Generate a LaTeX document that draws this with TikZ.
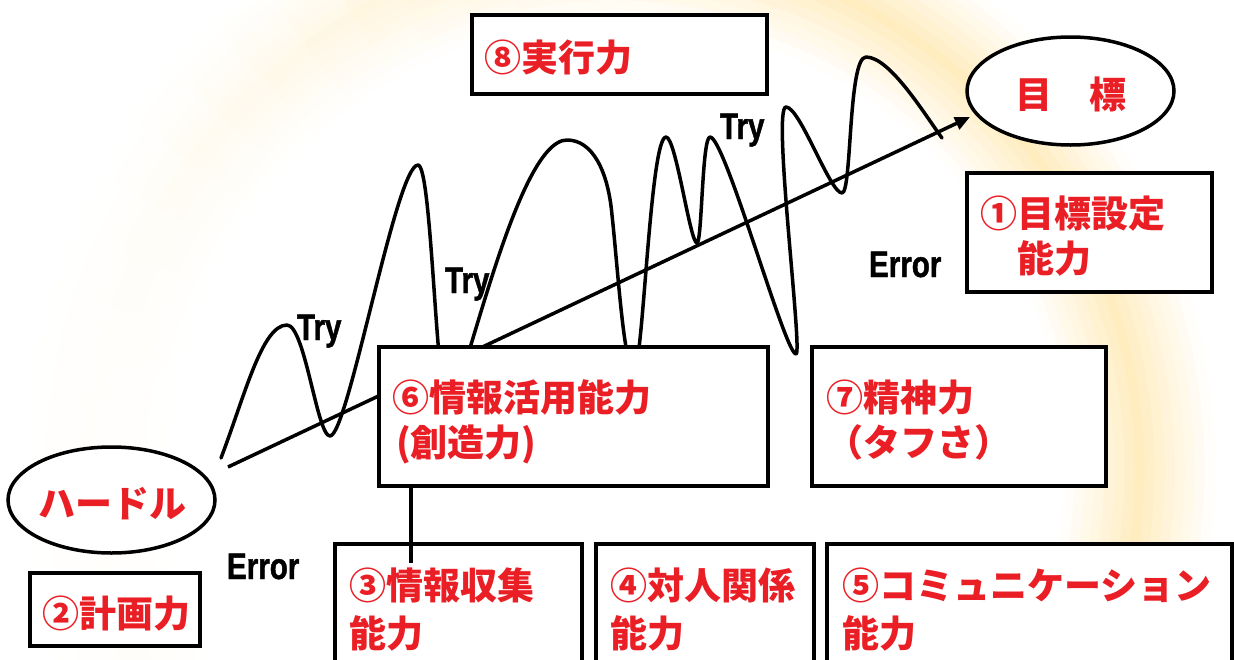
\documentclass[tikz,border=0pt]{standalone}
\usepackage{fontspec}
\newfontfamily\jp{Noto Sans CJK JP}
\newfontfamily\narrow{Liberation Sans Bold}[FakeStretch=0.8, FakeBold=1.2]
\usetikzlibrary{arrows.meta,shapes.geometric}
\definecolor{jred}{RGB}{234,30,37}
\definecolor{ringY}{RGB}{255,237,192}
\begin{document}
\begin{tikzpicture}[x=1pt,y=-1pt,
  box/.style={draw=black, fill=white, line width=3.5pt, rectangle, inner sep=0pt, outer sep=0pt},
  oval/.style={draw=black, fill=white, line width=3.5pt, ellipse, inner sep=0pt, outer sep=0pt},
  jtext/.style={text=jred, font=\jp\bfseries\fontsize{37pt}{44pt}\selectfont, inner sep=0pt, outer sep=0pt, anchor=base west},
  etext/.style={text=black, font=\narrow\fontsize{37pt}{44pt}\selectfont, inner sep=0pt, outer sep=0pt, anchor=base west},
  stroke/.style={line width=3.5pt, line cap=round, line join=round}]
\useasboundingbox (0,0) rectangle (1234,659);
% background ring (glow, fainter on the left)
\begin{scope}
\clip (0,0) rectangle (1234,659);
\fill[white] (0,0) rectangle (1234,659);
\foreach \r in {455,465,...,595} {
  \pgfmathsetmacro\p{max(0,1-abs(\r-525)/75)}
  \foreach \a in {0,6,...,354} {
    \pgfmathsetmacro\xx{615+\r*cos(\a+3)}
    \pgfmathsetmacro\w{min(1,max(0.06,(\xx-70)/620))}
    \pgfmathsetmacro\q{100*\p*\w}
    \draw[line width=10.8pt, draw=ringY!\q!white] (615,470) ++(\a:\r) arc[start angle=\a, end angle=\a+6.4, radius=\r];
  }
}
\end{scope}
% arrow and wave
\coordinate (as) at (228,467);
\coordinate (ae) at (970,117);
\draw[line width=3.5pt, -{Triangle[length=15pt,width=13pt]}] (as) -- (ae);
\draw[stroke] (221,458) .. controls (245,395) and (262,325) .. (287,325)
 .. controls (305,325) and (317,436) .. (330,436)
 .. controls (348,436) and (396,165) .. (418,165)
 .. controls (432,165) and (436,405) .. (448,405)
 .. controls (462,405) and (515,140) .. (567,140)
 .. controls (592,140) and (608,170) .. (612,215)
 .. controls (618,270) and (624,370) .. (634,370)
 .. controls (643,370) and (650,137) .. (666,137)
 .. controls (676,137) and (690,243) .. (697,243)
 .. controls (702,243) and (702,137) .. (710,137)
 .. controls (725,137) and (785,354) .. (796,354)
 .. controls (803,354) and (772,107) .. (786,107)
 .. controls (800,107) and (830,193) .. (842,193)
 .. controls (852,193) and (848,57) .. (866,57)
 .. controls (890,57) and (925,115) .. (942,138);
% boxes
\node[box, minimum width=295pt, minimum height=79pt] (b8) at (619.5,54.5) {};
\node[oval, minimum width=207pt, minimum height=108pt] (goal) at (1070.5,91) {};
\node[box, minimum width=245pt, minimum height=119pt] (b1) at (1089.5,232.5) {};
\node[oval, minimum width=207pt, minimum height=106pt] (hurdle) at (111.5,500) {};
\node[box, minimum width=170pt, minimum height=73pt] (b2) at (115,609.5) {};
\node[box, minimum width=389pt, minimum height=139pt] (b6) at (573.5,416.5) {};
\node[box, minimum width=294pt, minimum height=139pt] (b7) at (959,416.5) {};
\node[box, minimum width=247pt, minimum height=150pt] (b3) at (458.5,619) {};
\node[box, minimum width=218pt, minimum height=150pt] (b4) at (705,619) {};
\node[box, minimum width=405pt, minimum height=150pt] (b5) at (1029.5,619) {};
\coordinate (c3) at (411,563);
\draw[line width=3.5pt] (b6.south -| c3) -- (c3);
% texts
\node[jtext] (t8) at (484,71) {⑧実行力};
\node[jtext, anchor=base] (tg) at (1071,108) {目　標};
\node[jtext] (t1a) at (980,227) {①目標設定};
\node[jtext] (t1b) at (980,272) {　能力};
\node[jtext, anchor=base] (th) at (112,517) {ハードル};
\node[jtext] (t2) at (42,627) {②計画力};
\node[jtext] (t6a) at (392,411) {⑥情報活用能力};
\node[jtext] (t6b) at (396,456) {(創造力)};
\node[jtext] (t7a) at (826,411) {⑦精神力};
\node[jtext] (t7b) at (826,456) {（タフさ）};
\node[jtext] (t3a) at (349,599) {③情報収集};
\node[jtext] (t3b) at (349,647) {能力};
\node[jtext] (t4a) at (610,599) {④対人関係};
\node[jtext] (t4b) at (610,647) {能力};
\node[jtext] (t5a) at (842,599) {⑤コミュニケーション};
\node[jtext] (t5b) at (842,647) {能力};
\node[etext] (try1) at (297,340) {Try};
\node[etext] (try2) at (445,293) {Try};
\node[etext] (try3) at (720,139) {Try};
\node[etext] (err1) at (869,277) {Error};
\node[etext] (err2) at (227,579) {Error};
\end{tikzpicture}
\end{document}
